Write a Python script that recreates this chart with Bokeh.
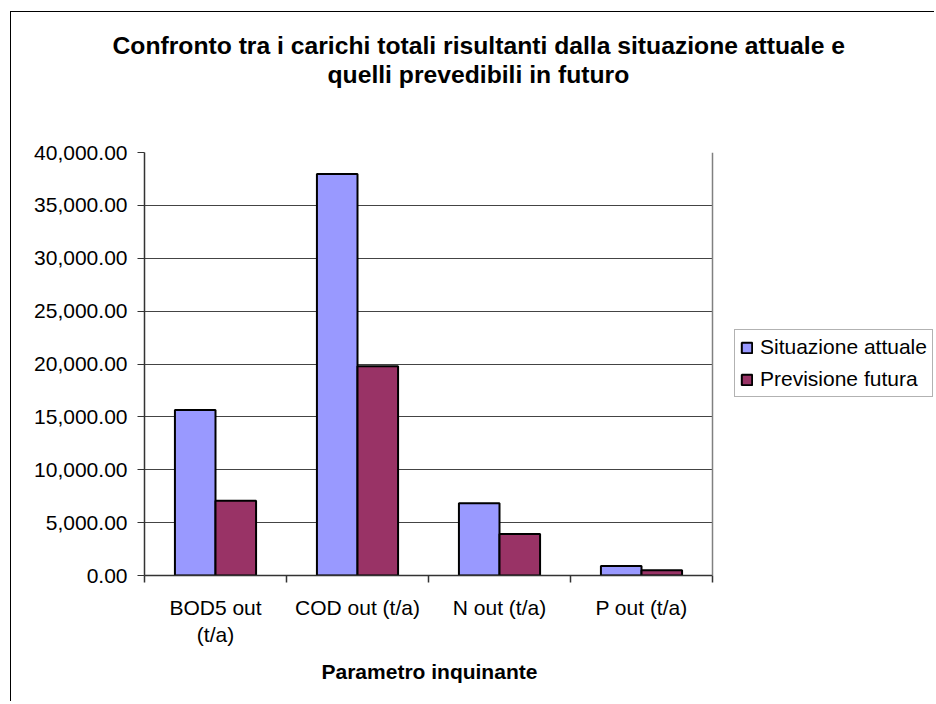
from bokeh.plotting import figure
from bokeh.models import (Range1d, FixedTicker, NumeralTickFormatter, Legend, LegendItem,
                          Title, ColumnDataSource, Span)
from bokeh.transform import dodge
from bokeh.embed import file_html
from bokeh.resources import INLINE

categories = ["BOD5 out (t/a)", "COD out (t/a)", "N out (t/a)", "P out (t/a)"]
tick_labels = ["BOD5 out\n(t/a)", "COD out (t/a)", "N out (t/a)", "P out (t/a)"]
situazione_attuale = [15650, 37970, 6830, 910]
previsione_futura = [7080, 19780, 3930, 500]
series_names = ["Situazione attuale", "Previsione futura"]
y_ticks = [0, 5000, 10000, 15000, 20000, 25000, 30000, 35000, 40000]
title_lines = ["Confronto tra i carichi totali risultanti dalla situazione attuale e",
               "quelli prevedibili in futuro"]
x_title = "Parametro inquinante"

FONT = "Liberation Sans"
n = len(categories)
centers = [i + 0.5 for i in range(n)]
edges = list(range(n + 1))

# layout: plot area is 568 px wide; the frame continues to the right edge (791 px)
# so that the legend can sit beside the plot area
PLOT_W, FRAME_W = 568, 791
x_end = n * FRAME_W / PLOT_W

src = ColumnDataSource(dict(cat=categories, pos=centers, a=situazione_attuale, f=previsione_futura))

p = figure(width=924, height=690, x_range=Range1d(0, x_end), y_range=Range1d(0, 40000),
           output_backend="svg", toolbar_location=None,
           min_border_left=133, min_border_right=0, min_border_top=140, min_border_bottom=127)
p.margin = (11, 0, 0, 10)
p.styles = {"border-left": "1.5px solid black", "border-top": "1.5px solid black"}
p.background_fill_color = "white"
p.border_fill_color = "white"
p.outline_line_color = None

# y axis
ya = p.yaxis[0]
ya.ticker = FixedTicker(ticks=y_ticks)
ya.formatter = NumeralTickFormatter(format="0,0.00")
ya.major_label_text_font = FONT
ya.major_label_text_font_size = "21px"
ya.major_label_text_color = "black"
ya.major_tick_out = 7
ya.major_tick_in = 0
ya.minor_tick_line_color = None
ya.major_label_standoff = 10
ya.axis_line_color = "#333333"
ya.axis_line_width = 1.5
ya.major_tick_line_color = "#333333"

p.ygrid.grid_line_color = "#444444"
p.ygrid.grid_line_width = 1
p.ygrid.cross_bounds = (0, n)
p.xgrid.visible = False

# x axis: labels at category centres, tick marks at category boundaries
xa = p.xaxis[0]
xa.bounds = (0, n)
xa.ticker = FixedTicker(ticks=centers, minor_ticks=edges)
xa.major_label_overrides = {c: t for c, t in zip(centers, tick_labels)}
xa.major_tick_line_color = None
xa.minor_tick_out = 7
xa.minor_tick_in = 0
xa.minor_tick_line_color = "#333333"
xa.minor_tick_line_width = 1.5
xa.axis_line_color = "#333333"
xa.axis_line_width = 1.5
xa.major_label_text_font = FONT
xa.major_label_text_font_size = "21px"
xa.major_label_text_color = "black"
xa.major_label_standoff = 13

# x axis title, centred under the plot area
p.add_layout(Title(text=x_title, align="left", offset=177, text_font=FONT,
                   text_font_size="21px", text_font_style="bold", text_color="black",
                   vertical_align="top", standoff=20), "below")

# right border of the plot area
p.add_layout(Span(location=n, dimension="height", line_color="#808080", line_width=1.5))

bw = 1 / 3.5
r1 = p.vbar(x=dodge("pos", -bw / 2), top="a", width=bw, source=src,
            fill_color="#9999FF", line_color="black", line_width=2)
r2 = p.vbar(x=dodge("pos", bw / 2), top="f", width=bw, source=src,
            fill_color="#993366", line_color="black", line_width=2)

legend = Legend(items=[LegendItem(label=series_names[0], renderers=[r1]),
                       LegendItem(label=series_names[1], renderers=[r2])],
                location=(590, 178), orientation="vertical",
                label_text_font=FONT, label_text_font_size="21px", label_text_color="black",
                glyph_width=13, glyph_height=13, label_height=24, label_standoff=7,
                spacing=8, padding=5, margin=0,
                border_line_color="#666666", border_line_width=1.5,
                background_fill_color="white", background_fill_alpha=1)
p.add_layout(legend, "center")

# two-line title (first item in "above" is closest to the frame)
p.title.text = ""
p.add_layout(Title(text=" ", text_font=FONT, text_font_size="55.8px", standoff=0), "above")
p.add_layout(Title(text=title_lines[1], align="left", offset=183, text_font=FONT,
                   text_font_size="24.7px", text_font_style="bold", text_color="black",
                   vertical_align="bottom", standoff=0), "above")
p.add_layout(Title(text=title_lines[0], align="left", offset=-32, text_font=FONT,
                   text_font_size="24.7px", text_font_style="bold", text_color="black",
                   vertical_align="bottom", standoff=0), "above")

open("out.html", "w").write(file_html(p, INLINE))
